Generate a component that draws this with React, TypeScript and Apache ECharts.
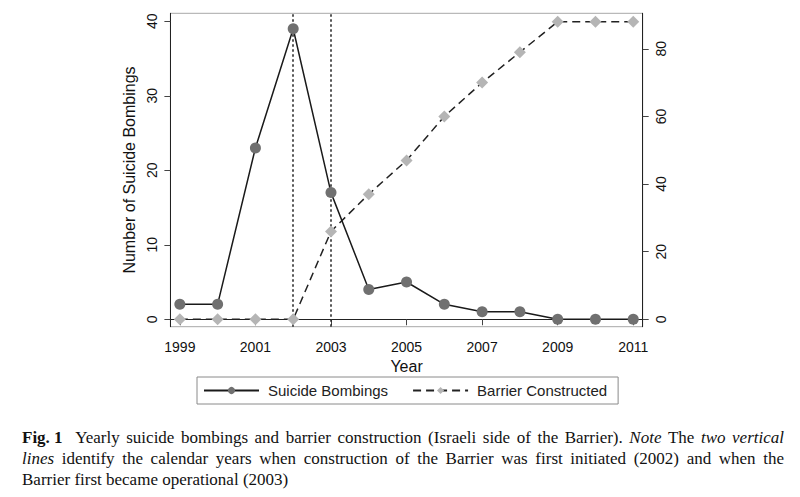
import React, { useEffect, useRef } from "react";
import * as echarts from "echarts";

const years = [1999, 2000, 2001, 2002, 2003, 2004, 2005, 2006, 2007, 2008, 2009, 2010, 2011];
const suicideBombings = [2, 2, 23, 39, 17, 4, 5, 2, 1, 1, 0, 0, 0];
const barrierConstructed = [0, 0, 0, 0, 26, 37, 47, 60, 70, 79, 88, 88, 88];
const xTickLabels = [1999, 2001, 2003, 2005, 2007, 2009, 2011];
const leftTicks = [0, 10, 20, 30, 40];
const rightTicks = [0, 20, 40, 60, 80];
const verticalLineYears = [2002, 2003];

// caption words: [text, style] where style: "n" normal, "b" bold, "i" italic
const captionLine1: [string, string][] = [
  ["Fig. 1", "b"], ["Yearly", "n"], ["suicide", "n"], ["bombings", "n"], ["and", "n"], ["barrier", "n"],
  ["construction", "n"], ["(Israeli", "n"], ["side", "n"], ["of", "n"], ["the", "n"], ["Barrier).", "n"],
  ["Note", "i"], ["The", "n"], ["two", "i"], ["vertical", "i"],
];
const captionLine2: [string, string][] = [
  ["lines", "i"], ["identify", "n"], ["the", "n"], ["calendar", "n"], ["years", "n"], ["when", "n"],
  ["construction", "n"], ["of", "n"], ["the", "n"], ["Barrier", "n"], ["was", "n"], ["first", "n"],
  ["initiated", "n"], ["(2002)", "n"], ["and", "n"], ["when", "n"], ["the", "n"],
];
const captionLine3: [string, string][] = [
  ["Barrier", "n"], ["first", "n"], ["became", "n"], ["operational", "n"], ["(2003)", "n"],
];

const SANS = "Liberation Sans, Arial, sans-serif";
const SERIF_NAME = "Liberation Serif";
const SERIF = "Liberation Serif, Times New Roman, serif";
const CAP_SIZE = 17;

function measure(ctx: CanvasRenderingContext2D, word: string, st: string) {
  const w = st === "b" ? "bold" : "normal";
  const s = st === "i" ? "italic" : "normal";
  ctx.font = `${s} ${w} ${CAP_SIZE}px "${SERIF_NAME}"`;
  return ctx.measureText(word).width;
}

function layoutLine(
  ctx: CanvasRenderingContext2D,
  words: [string, string][],
  y: number,
  left: number,
  right: number,
  justify: boolean,
  extraAfterFirst: number
) {
  const widths = words.map(([t, st]) => measure(ctx, t, st));
  const total = widths.reduce((a, b) => a + b, 0) + extraAfterFirst;
  const spaceW = measure(ctx, " ", "n");
  const gap = justify ? (right - left - total) / (words.length - 1) : spaceW;
  let x = left;
  return words.map(([t, st], i) => {
    const el = {
      type: "text",
      x,
      y,
      style: {
        text: t,
        fontFamily: SERIF,
        fontSize: CAP_SIZE,
        fontWeight: st === "b" ? "bold" : "normal",
        fontStyle: st === "i" ? "italic" : "normal",
        fill: "#111",
        verticalAlign: "middle",
      },
    };
    x += widths[i] + gap + (i === 0 ? extraAfterFirst : 0);
    return el;
  });
}

export default function App() {
  const ref = useRef<HTMLDivElement>(null);

  useEffect(() => {
    if (!ref.current) return;
    const chart = echarts.init(ref.current, undefined, { renderer: "svg" });

    const bombData = years.map((y, i) => [y, suicideBombings[i]]);
    const barrierData = years.map((y, i) => [y, barrierConstructed[i]]);

    const ctx = document.createElement("canvas").getContext("2d") as CanvasRenderingContext2D;
    const captionElements = [
      ...layoutLine(ctx, captionLine1, 437, 22, 784, true, 6),
      ...layoutLine(ctx, captionLine2, 458, 22, 784, true, 0),
      ...layoutLine(ctx, captionLine3, 479, 22, 784, false, 0),
    ];

    const option: any = {
      animation: false,
      backgroundColor: "#ffffff",
      grid: {
        left: 170.4,
        top: 13.3,
        width: 472.3,
        height: 313.4,
        show: true,
        borderColor: "#a8a8a8",
        borderWidth: 1,
        containLabel: false,
      },
      xAxis: {
        type: "value",
        min: 1998.75,
        max: 2011.25,
        name: "Year",
        nameLocation: "middle",
        nameGap: 31,
        nameTextStyle: { fontFamily: SANS, fontSize: 16, color: "#111" },
        axisLine: { show: true, lineStyle: { color: "#222", width: 1 } },
        axisTick: {
          show: true,
          length: 6,
          lineStyle: { color: "#444" },
          customValues: xTickLabels,
        },
        axisLabel: {
          customValues: xTickLabels,
          fontFamily: SANS,
          fontSize: 14,
          color: "#111",
          margin: 13,
          formatter: (v: number) => String(v),
        },
        splitLine: { show: false },
      },
      yAxis: [
        {
          type: "value",
          min: -1,
          max: 41.07,
          position: "left",
          name: "Number of Suicide Bombings",
          nameLocation: "middle",
          nameGap: 33,
          nameTextStyle: { fontFamily: SANS, fontSize: 16, color: "#111" },
          axisLine: { show: true, lineStyle: { color: "#222", width: 1 } },
          axisTick: { show: true, length: 6, lineStyle: { color: "#444" }, customValues: leftTicks },
          axisLabel: {
            customValues: leftTicks,
            rotate: 90,
            fontFamily: SANS,
            fontSize: 14,
            color: "#111",
            margin: 11,
          },
          splitLine: { show: false },
        },
        {
          type: "value",
          min: -2.19,
          max: 90.5,
          position: "right",
          axisLine: { show: true, lineStyle: { color: "#222", width: 1 } },
          axisTick: { show: true, length: 6, lineStyle: { color: "#444" }, customValues: rightTicks },
          axisLabel: {
            customValues: rightTicks,
            rotate: 90,
            fontFamily: SANS,
            fontSize: 14,
            color: "#111",
            margin: 11,
          },
          splitLine: { show: false },
        },
      ],
      legend: {
        left: 197,
        top: 377,
        orient: "horizontal",
        padding: [6, 11, 6, 6],
        itemGap: 24,
        itemWidth: 55,
        itemHeight: 9,
        borderColor: "#8a8a8a",
        borderWidth: 1,
        borderRadius: 0,
        textStyle: { fontFamily: SANS, fontSize: 15, color: "#222", padding: [0, 0, 0, 4] },
        data: ["Suicide Bombings", "Barrier Constructed"],
      },
      series: [
        {
          name: "Barrier Constructed",
          type: "line",
          yAxisIndex: 1,
          data: barrierData,
          symbol: "diamond",
          symbolSize: 12,
          itemStyle: { color: "#b5b5b5" },
          lineStyle: { color: "#222", width: 1.5, type: [8, 5] },
          z: 3,
        },
        {
          name: "Suicide Bombings",
          type: "line",
          yAxisIndex: 0,
          data: bombData,
          symbol: "circle",
          symbolSize: 11,
          itemStyle: { color: "#707070" },
          lineStyle: { color: "#1a1a1a", width: 1.5, type: "solid" },
          z: 4,
          markLine: {
            silent: true,
            symbol: ["none", "none"],
            label: { show: false },
            lineStyle: { color: "#222", width: 1.5, type: [2.5, 2.5] },
            data: verticalLineYears.map((y) => ({ xAxis: y })),
            z: 2,
          },
        },
      ],
      graphic: captionElements,
    };

    chart.setOption(option);
    return () => chart.dispose();
  }, []);

  return (
    <div
      ref={ref}
      style={{ position: "fixed", left: 0, top: 0, width: 800, height: 497, background: "#fff" }}
    />
  );
}
